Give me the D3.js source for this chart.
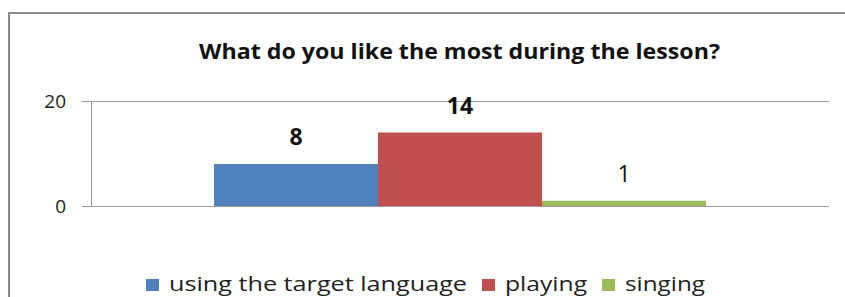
<!DOCTYPE html>
<html>
<head>
<meta charset="utf-8">
<script src="https://cdn.jsdelivr.net/npm/d3@7"></script>
<style>
  body { margin: 0; background: #fff; }
  svg { display: block; font-family: "Open Sans", sans-serif; }
</style>
</head>
<body>
<div id="svg-container"></div>
<script>
// data
const categories = ["using the target language", "playing", "singing"];
const values = [8, 14, 1];
const yTicks = [0, 20];
const title = "What do you like the most during the lesson?";

// styles
const colors = ["#4F81BD", "#C0504D", "#9BBB59"];
const labelBold = [true, true, false];

const width = 845, height = 297;
const plot = { left: 91, right: 829, top: 101, bottom: 206 };

const svg = d3.select("#svg-container").append("svg")
  .attr("width", width).attr("height", height);

// outer chart frame
svg.append("rect")
  .attr("x", 9).attr("y", 13)
  .attr("width", 1000).attr("height", 500)
  .attr("fill", "#fff")
  .attr("stroke", "#8c8c8c")
  .attr("stroke-width", 2);

// scales
const x0 = d3.scaleBand().domain(["group"])
  .range([plot.left, plot.right])
  .paddingOuter(0.25).paddingInner(0);
const x1 = d3.scaleBand().domain(categories)
  .range([0, x0.bandwidth()]);
const y = d3.scaleLinear().domain([0, 20]).range([plot.bottom, plot.top]);

// grid lines
svg.selectAll(".grid")
  .data(yTicks)
  .enter()
  .append("line")
  .attr("x1", plot.left - 9)
  .attr("x2", plot.right)
  .attr("y1", d => Math.round(y(d)) + 0.5)
  .attr("y2", d => Math.round(y(d)) + 0.5)
  .attr("stroke", "#9a9a9a")
  .attr("stroke-width", 1);

// y axis
svg.append("line")
  .attr("x1", plot.left + 0.5).attr("x2", plot.left + 0.5)
  .attr("y1", y(20)).attr("y2", y(0))
  .attr("stroke", "#9a9a9a");

svg.selectAll(".ytick")
  .data(yTicks)
  .enter()
  .append("text")
  .attr("x", 66)
  .attr("y", d => y(d))
  .attr("dy", "0.36em")
  .attr("text-anchor", "end")
  .attr("font-size", 19)
  .attr("fill", "#222")
  .text(d => d);

// bars
const gx = x0("group");
svg.selectAll(".bar")
  .data(values)
  .enter()
  .append("rect")
  .attr("x", (d, i) => gx + x1(categories[i]))
  .attr("y", d => y(d))
  .attr("width", x1.bandwidth())
  .attr("height", d => y(0) - y(d))
  .attr("fill", (d, i) => colors[i]);

// data labels
svg.selectAll(".label")
  .data(values)
  .enter()
  .append("text")
  .attr("x", (d, i) => gx + x1(categories[i]) + x1.bandwidth() / 2)
  .attr("y", d => y(d) - 19)
  .attr("text-anchor", "middle")
  .attr("font-size", 23)
  .attr("font-weight", (d, i) => labelBold[i] ? 700 : 400)
  .attr("fill", "#111")
  .text(d => d);

// title
svg.append("text")
  .attr("x", 199)
  .attr("y", 59)
  .attr("font-size", 22)
  .attr("font-weight", 700)
  .attr("fill", "#111")
  .attr("textLength", 521)
  .attr("lengthAdjust", "spacingAndGlyphs")
  .text(title);

// legend
const legendX = [146, 482, 602];
const legendW = [298, 82, 80];
const legend = svg.selectAll(".legend")
  .data(categories)
  .enter()
  .append("g")
  .attr("transform", (d, i) => `translate(${legendX[i]}, 0)`);

legend.append("rect")
  .attr("x", 0).attr("y", 279)
  .attr("width", 13).attr("height", 12)
  .attr("fill", (d, i) => colors[i]);

legend.append("text")
  .attr("x", 23)
  .attr("y", 291)
  .attr("font-size", 20)
  .attr("fill", "#222")
  .attr("textLength", (d, i) => legendW[i])
  .attr("lengthAdjust", "spacingAndGlyphs")
  .text(d => d);
</script>
</body>
</html>
